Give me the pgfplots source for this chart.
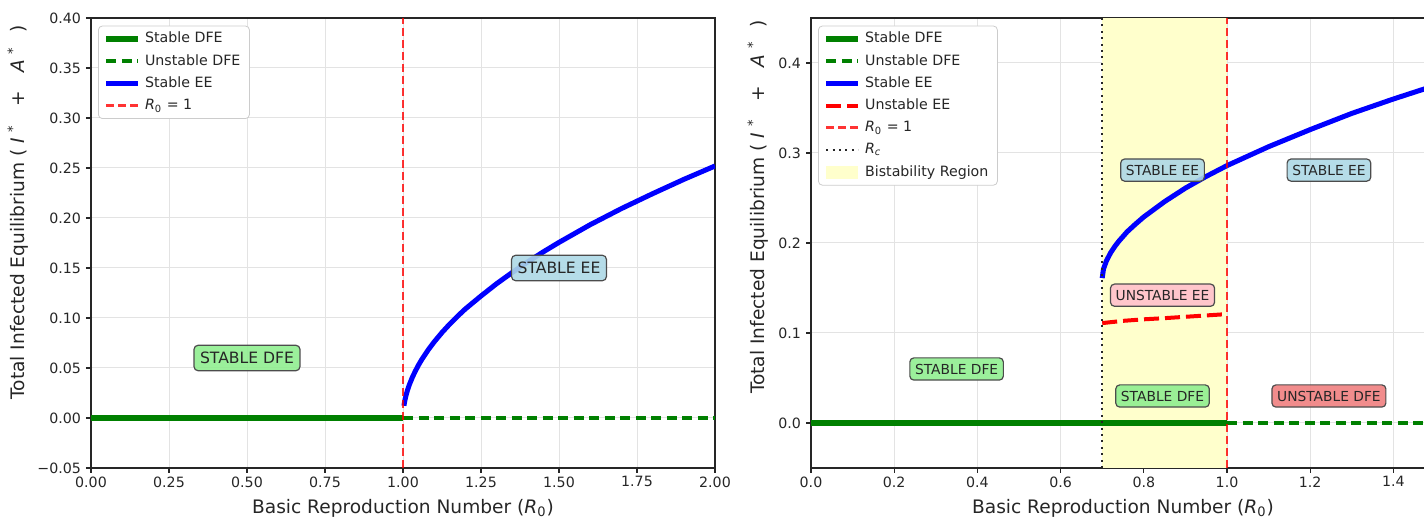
\documentclass[border=0pt]{standalone}
\usepackage{pgfplots}
\pgfplotsset{compat=1.18}
\usepackage{fontspec}
\setmainfont{DejaVu Sans}
\definecolor{mgreen}{rgb}{0,0.502,0}
\definecolor{lgreen}{HTML}{90EE90}
\definecolor{lblue}{HTML}{ADD8E6}
\definecolor{lpink}{HTML}{FFC0CB}
\definecolor{lcoral}{HTML}{F08080}
\definecolor{lyel}{HTML}{FFFFCC}
\tikzset{annot/.style={draw=black!70, line width=0.6pt, rounded corners=2pt,
    inner xsep=3pt, inner ysep=3.2pt, font=\fontsize{7.8}{9}\selectfont,
    text height=6pt, text depth=0.3pt, fill opacity=0.9, text opacity=1, text=black!85},
  annots/.style={annot, inner xsep=2.6pt, inner ysep=2.8pt, font=\fontsize{6.9}{8}\selectfont,
    text height=5.3pt, text depth=0.2pt}}
\pgfplotsset{
  common/.style={
    scale only axis, width=312pt, height=225pt, anchor=south west,
    axis line style={black!85, line width=0.6pt},
    tick align=outside, major tick length=2.5pt,
    xtick pos=bottom, ytick pos=left,
    tick style={black!85, line width=0.6pt},
    xticklabel shift=-1.75pt, yticklabel shift=-1pt,
    grid=major, major grid style={black!11, line width=0.5pt},
    ticklabel style={font=\fontsize{7.1}{8}\selectfont, text=black!85},
    xlabel style={font=\fontsize{9.3}{11}\selectfont, text=black!85},
    ylabel style={font=\fontsize{9.3}{11}\selectfont, text=black!85},
    xlabel={Basic Reproduction Number (\textit{R}\textsubscript{0})},
    ylabel={Total Infected Equilibrium (\hspace{3pt}\textit{I}\textsuperscript{\hspace{3pt}*}\hspace{9pt}+\hspace{9pt}\textit{A}\textsuperscript{\hspace{3pt}*}\hspace{7pt})},
    xlabel style={at={(axis description cs:0.5,-0.089)}, anchor=center},
    legend cell align=left,
    legend style={at={(0,1)}, anchor=north west, xshift=3.5pt, yshift=-3.8pt,
      draw=black!20, fill=white, rounded corners=2pt,
      font=\fontsize{7.1}{8}\selectfont, inner xsep=2.5pt, inner ysep=2pt,
      row sep=2.1pt,
      nodes={inner ysep=1pt, inner xsep=2pt, text height=5.5pt, text depth=1.5pt, text=black!85}},
    legend image code/.code={\draw[#1] (0pt,0pt) -- (16pt,0pt);},
  },
}
\begin{document}
\begin{tikzpicture}
\useasboundingbox (0pt,0pt) rectangle (712pt,259.5pt);
\clip (0pt,0pt) rectangle (712pt,259.5pt);
% ---------------- left panel ----------------
\begin{axis}[common, at={(45.5pt,25.5pt)},
  xmin=0, xmax=2, ymin=-0.05, ymax=0.40,
  xtick={0,0.25,0.5,0.75,1,1.25,1.5,1.75,2},
  xticklabels={0.00,0.25,0.50,0.75,1.00,1.25,1.50,1.75,2.00},
  ytick={-0.05,0,0.05,0.1,0.15,0.2,0.25,0.3,0.35,0.4},
  yticklabels={−0.05,0.00,0.05,0.10,0.15,0.20,0.25,0.30,0.35,0.40},
  ylabel style={at={(axis description cs:-0.117,0.568)}, anchor=center},
]
\addplot[mgreen, line width=2.85pt] coordinates {(0,0) (1,0)};
\addlegendentry{Stable DFE}
\addplot[mgreen, line width=2pt, dash pattern=on 5pt off 2.75pt] coordinates {(1,0) (2,0)};
\addlegendentry{Unstable DFE}
\addplot[blue, line width=2.5pt] coordinates {
(1.003,0.0123) (1.006,0.0176) (1.01,0.0230) (1.015,0.0284) (1.02,0.0330) (1.03,0.0407)
(1.04,0.0472) (1.05,0.0531) (1.06,0.0584) (1.08,0.0678) (1.10,0.0761) (1.125,0.0855)
(1.15,0.0940) (1.175,0.1018) (1.20,0.1091) (1.25,0.1220) (1.30,0.1343) (1.35,0.1455)
(1.40,0.1562) (1.45,0.1662) (1.50,0.1756) (1.60,0.1933) (1.70,0.2094) (1.80,0.2243)
(1.90,0.2386) (2.00,0.2520)};
\addlegendentry{Stable EE}
\addplot[red, opacity=0.8, line width=1.3pt, dash pattern=on 4pt off 2pt] coordinates {(1,-0.05) (1,0.40)};
\addlegendentry{\textit{R}\textsubscript{0} = 1}
\node[annot, fill=lgreen] at (axis cs:0.5,0.06) {STABLE DFE};
\node[annot, fill=lblue] at (axis cs:1.5,0.15) {STABLE EE};
\end{axis}
% ---------------- right panel ----------------
\begin{axis}[common, at={(405.5pt,25.5pt)},
  xmin=0, xmax=1.5, ymin=-0.05, ymax=0.45,
  xtick={0,0.2,0.4,0.6,0.8,1.0,1.2,1.4},
  xticklabels={0.0,0.2,0.4,0.6,0.8,1.0,1.2,1.4},
  ytick={0,0.1,0.2,0.3,0.4},
  yticklabels={0.0,0.1,0.2,0.3,0.4},
  ylabel style={at={(axis description cs:-0.085,0.58)}, anchor=center},
]
\addplot[fill=lyel, draw=none, forget plot] coordinates {(0.7,-0.05) (0.7,0.45) (1.0,0.45) (1.0,-0.05)};
\addplot[mgreen, line width=2.85pt] coordinates {(0,0) (1,0)};
\addlegendentry{Stable DFE}
\addplot[mgreen, line width=2pt, dash pattern=on 5pt off 2.75pt] coordinates {(1,0) (1.5,0)};
\addlegendentry{Unstable DFE}
\addplot[blue, line width=2.5pt] coordinates {
(0.700,0.161) (0.703,0.171) (0.71,0.180) (0.72,0.189) (0.73,0.196) (0.74,0.202) (0.76,0.2125)
(0.78,0.221) (0.80,0.229) (0.85,0.246) (0.90,0.261) (0.95,0.274) (1.00,0.286)
(1.10,0.307) (1.20,0.326) (1.30,0.344) (1.40,0.360) (1.50,0.375)};
\addlegendentry{Stable EE}
\addplot[red, line width=2pt, dash pattern=on 7.5pt off 3pt] coordinates {
(0.70,0.111) (0.75,0.1135) (0.80,0.1152) (0.85,0.1165) (0.90,0.118) (0.95,0.1195) (1.00,0.121)};
\addlegendentry{Unstable EE}
\addplot[red, opacity=0.8, line width=1.3pt, dash pattern=on 4pt off 2pt] coordinates {(1,-0.05) (1,0.45)};
\addlegendentry{\textit{R}\textsubscript{0} = 1}
\addplot[black!85, line width=1pt, dash pattern=on 1pt off 2.2pt] coordinates {(0.7,-0.05) (0.7,0.45)};
\addlegendentry{\textit{R\textsubscript{c}}}
\addlegendimage{legend image code/.code={\path[fill=lyel, draw=none, sharp corners] (0pt,-3.2pt) rectangle (16pt,3.2pt);}}
\addlegendentry{Bistability Region}
\node[annots, fill=lgreen] at (axis cs:0.35,0.06) {STABLE DFE};
\node[annots, fill=lgreen] at (axis cs:0.845,0.03) {STABLE DFE};
\node[annots, fill=lcoral] at (axis cs:1.245,0.03) {UNSTABLE DFE};
\node[annots, fill=lpink] at (axis cs:0.845,0.142) {UNSTABLE EE};
\node[annots, fill=lblue] at (axis cs:0.845,0.281) {STABLE EE};
\node[annots, fill=lblue] at (axis cs:1.245,0.281) {STABLE EE};
\end{axis}
\end{tikzpicture}
\end{document}
